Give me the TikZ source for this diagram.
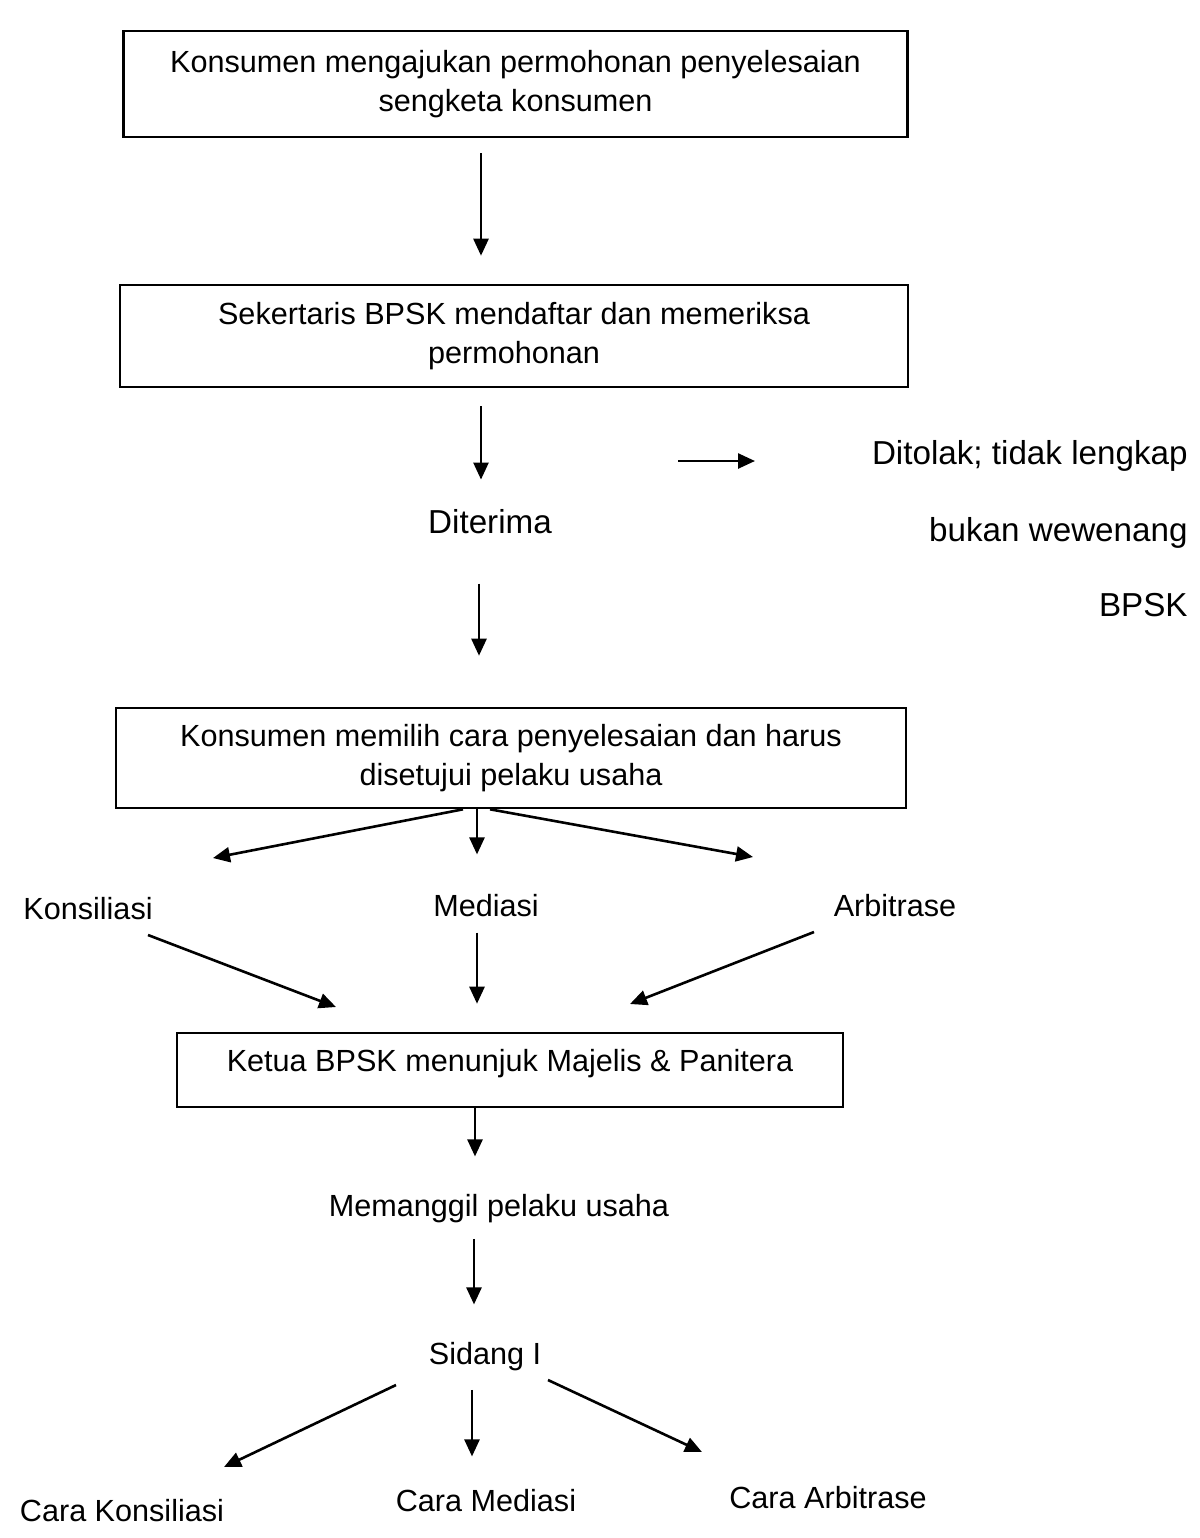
\documentclass[tikz,border=0pt]{standalone}
\usepackage{fontspec}
\setmainfont{Liberation Sans}
\usetikzlibrary{arrows.meta,calc}
\begin{document}
\begin{tikzpicture}[x=0.5pt,y=-0.5pt,
  txt/.style={font=\fontsize{15.3}{19.5}\selectfont, inner sep=0pt, align=center},
  bigtxt/.style={font=\fontsize{16.6}{20}\selectfont},
  box/.style={txt, draw, line width=1.3pt},
  lbl/.style={txt, anchor=base},
  arr/.style={-{Triangle[length=8.5pt,width=7.5pt]}, line width=1.3pt}]
\useasboundingbox (0,0) rectangle (1200,1538);
% boxes
\node[box, minimum width=392pt, minimum height=53pt] (b1) at (515.5,84)
  {Konsumen mengajukan permohonan penyelesaian\\sengketa konsumen};
\node[box, minimum width=394pt, minimum height=51pt] (b2) at (514,336)
  {Sekertaris BPSK mendaftar dan memeriksa\\permohonan};
\node[box, minimum width=395pt, minimum height=50pt] (b3) at (511,758)
  {Konsumen memilih cara penyelesaian dan harus\\disetujui pelaku usaha};
\node[box, minimum width=333pt, minimum height=37pt, text height=11.2pt, text depth=10pt] (b4) at (510,1070)
  {Ketua BPSK menunjuk Majelis \& Panitera};
% labels
\node[lbl, bigtxt] (dit) at (490,533) {Diterima};
\node[lbl, bigtxt, anchor=base east] (tol1) at (1188,464) {Ditolak; tidak lengkap};
\node[lbl, bigtxt, anchor=base east] (tol2) at (1188,541) {bukan wewenang};
\node[lbl, bigtxt, anchor=base east] (tol3) at (1188,616) {BPSK};
\node[lbl] (kon) at (88,919) {Konsiliasi};
\node[lbl] (med) at (486,916) {Mediasi};
\node[lbl] (arb) at (895,916) {Arbitrase};
\node[lbl] (pang) at (499,1216) {Memanggil pelaku usaha};
\node[lbl] (sid) at (485,1364) {Sidang I};
\node[lbl] (ckon) at (122,1521) {Cara Konsiliasi};
\node[lbl] (cmed) at (486,1511) {Cara Mediasi};
\node[lbl] (carb) at (828,1508) {Cara Arbitrase};
% vertical connectors
\draw[arr] ($(b1.south)+(-34.5,15)$) -- ($(b2.north)+(-33,-28)$);
\draw[arr] ($(b2.south)+(-33,18)$) -- ($(dit.north)+(-9,-29)$);
\draw[arr] ($(dit.south)+(-11,50)$) -- ($(b3.north)+(-32,-51)$);
\coordinate (s1) at (678,461);
\coordinate (s2) at (755,461);
\draw[arr] (s1) -- (s2);
% fan from b3
\coordinate (fl) at (213,858);
\coordinate (fr) at (753,857);
\draw[arr] ($(b3.south)+(-48,0)$) -- (fl);
\draw[arr] ($(b3.south)+(-34,0)$) -- ($(med.north)+(-9,-39)$);
\draw[arr] ($(b3.south)+(-21,0)$) -- (fr);
% into b4
\coordinate (k1) at (148,935);
\coordinate (k2) at (336,1007);
\coordinate (a1) at (814,932);
\coordinate (a2) at (630,1004);
\draw[arr] (k1) -- (k2);
\draw[arr] ($(med.south)+(-9,16)$) -- ($(b4.north)+(-33,-28)$);
\draw[arr] (a1) -- (a2);
% lower chain
\draw[arr] ($(b4.south)+(-35,0)$) -- ($(pang.north)+(-24,-37)$);
\draw[arr] ($(pang.south)+(-25,16)$) -- ($(sid.north)+(-11,-37)$);
\coordinate (l1) at (396,1385);
\coordinate (l2) at (224,1467);
\coordinate (r1) at (548,1380);
\coordinate (r2) at (702,1452);
\draw[arr] (l1) -- (l2);
\draw[arr] ($(sid.south)+(-13,19)$) -- ($(cmed.north)+(-14,-32)$);
\draw[arr] (r1) -- (r2);
\end{tikzpicture}
\end{document}
